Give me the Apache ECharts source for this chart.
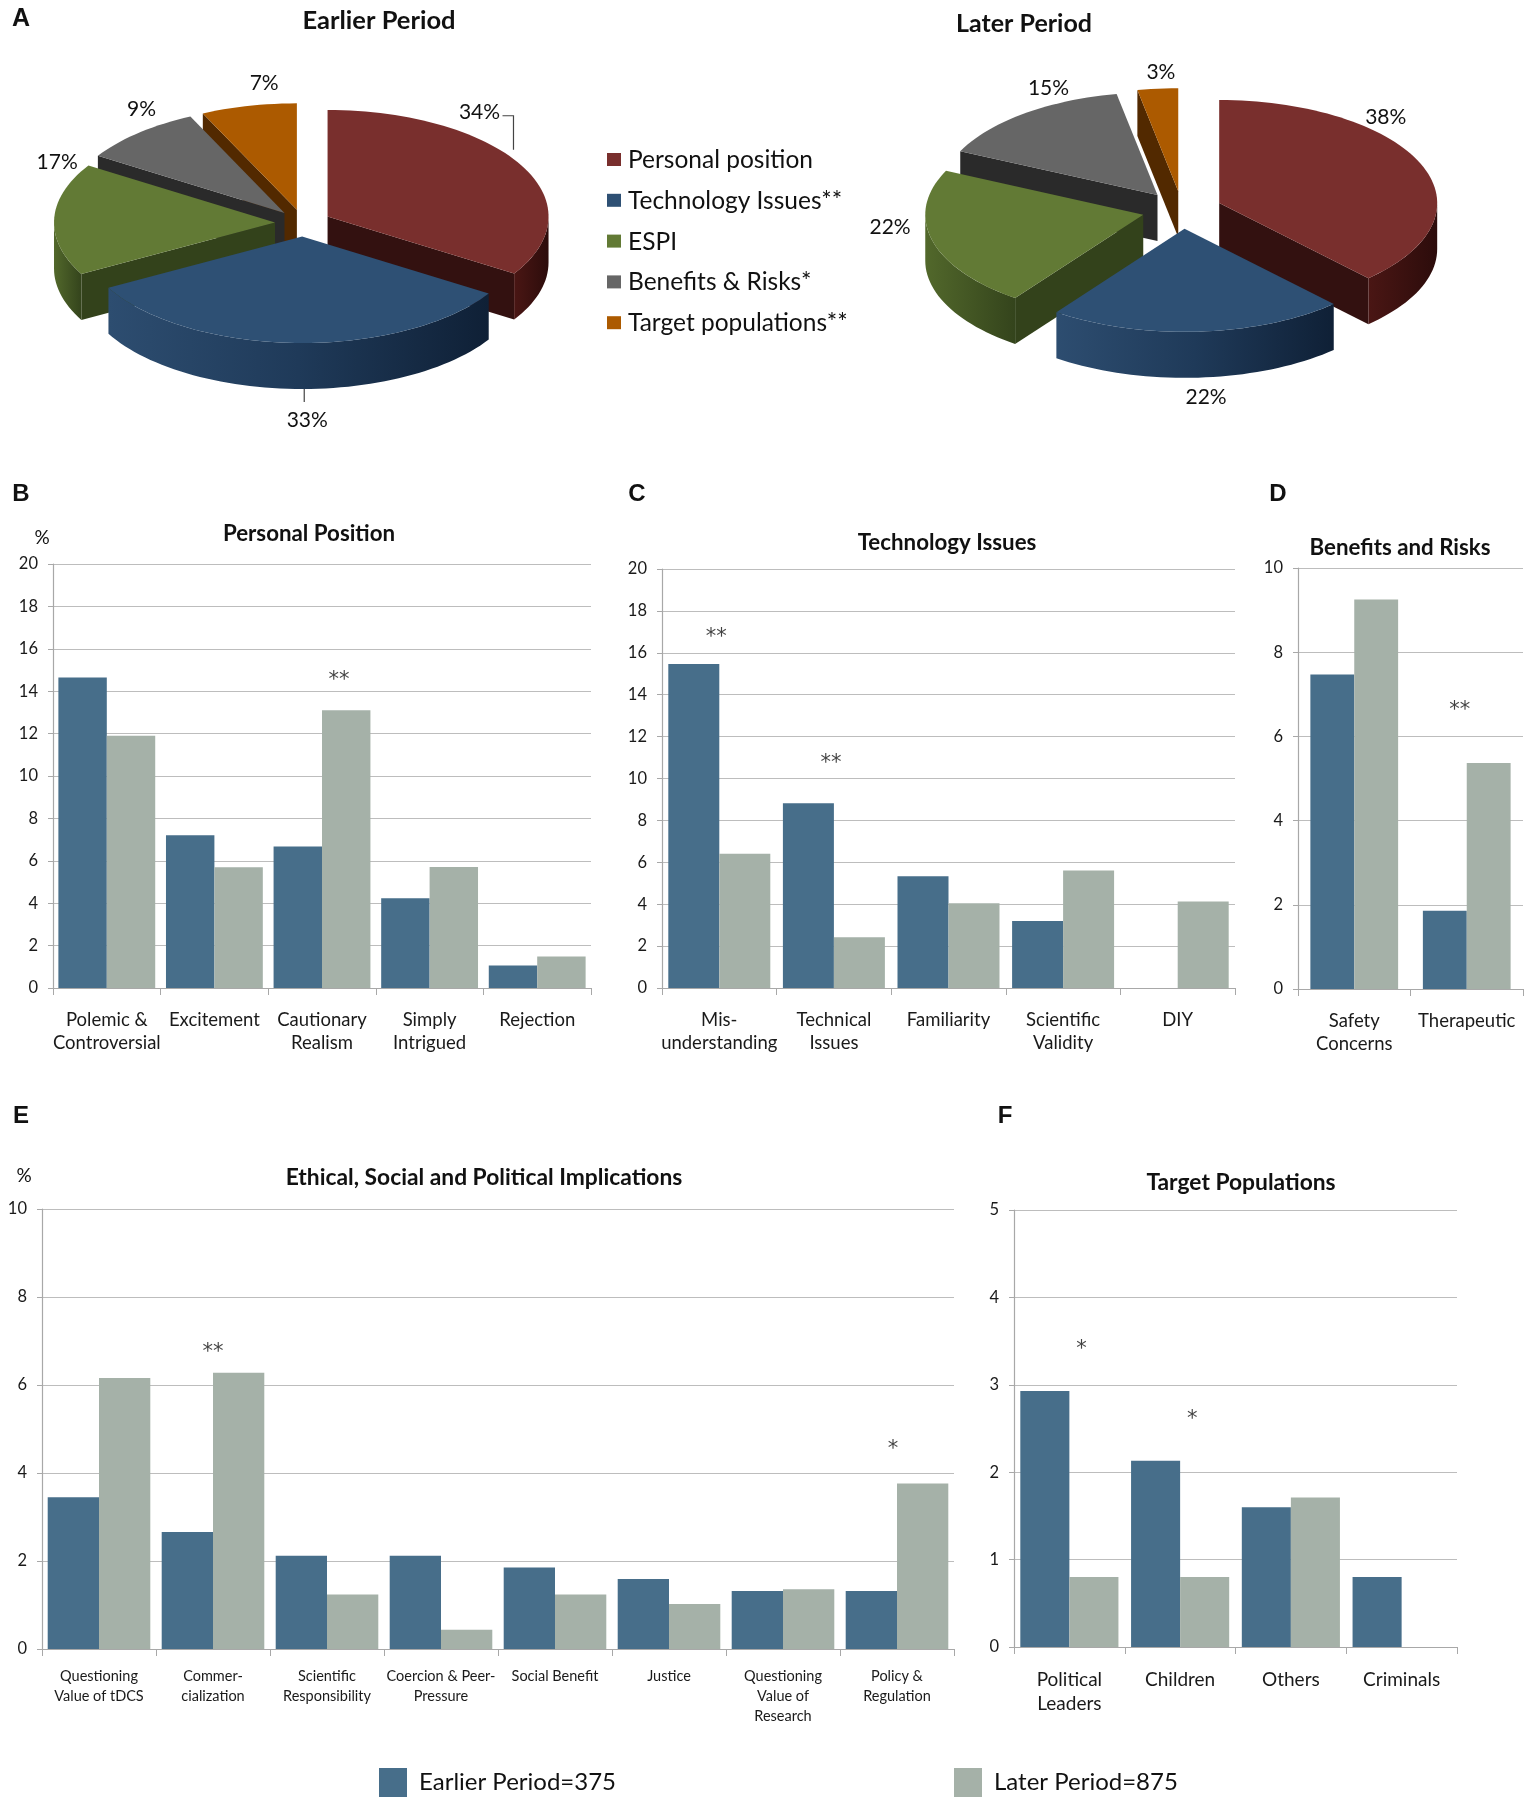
<!DOCTYPE html>
<html><head><meta charset="utf-8">
<script src="https://cdn.jsdelivr.net/npm/echarts@6/dist/echarts.min.js"></script>
<style>html,body{margin:0;padding:0;background:#fff}#c{width:1532px;height:1800px}</style>
</head><body><div id="c"></div>
<script>
// ---------- DATA ----------
const pieCategories = ['Personal position', 'Technology Issues**', 'ESPI', 'Benefits & Risks*', 'Target populations**'];
const earlierPieValues = [34, 33, 17, 9, 7];
const laterPieValues = [38, 22, 22, 15, 3];

const ppCategories = ['Polemic &\nControversial', 'Excitement', 'Cautionary\nRealism', 'Simply\nIntrigued', 'Rejection'];
const ppEarlier = [14.65, 7.2, 6.67, 4.23, 1.06];
const ppLater = [11.9, 5.7, 13.1, 5.71, 1.48];
const ppMarks = [[2, 14.8, '**']];

const tiCategories = ['Mis-\nunderstanding', 'Technical\nIssues', 'Familiarity', 'Scientific\nValidity', 'DIY'];
const tiEarlier = [15.46, 8.82, 5.34, 3.2, 0];
const tiLater = [6.41, 2.42, 4.04, 5.61, 4.13];
const tiMarks = [[0, 17.0, '**'], [1, 11.0, '**']];

const brCategories = ['Safety\nConcerns', 'Therapeutic'];
const brEarlier = [7.47, 1.86];
const brLater = [9.25, 5.37];
const brMarks = [[1, 6.75, '**']];

const espiCategories = ['Questioning\nValue of tDCS', 'Commer-\ncialization', 'Scientific\nResponsibility', 'Coercion & Peer-\nPressure', 'Social Benefit', 'Justice', 'Questioning\nValue of\nResearch', 'Policy &\nRegulation'];
const espiEarlier = [3.45, 2.66, 2.12, 2.12, 1.85, 1.59, 1.32, 1.32];
const espiLater = [6.16, 6.28, 1.24, 0.44, 1.24, 1.02, 1.36, 3.76];
const espiMarks = [[1, 6.87, '**'], [7, 4.68, '*']];

const tpCategories = ['Political\nLeaders', 'Children', 'Others', 'Criminals'];
const tpEarlier = [2.93, 2.13, 1.60, 0.80];
const tpLater = [0.80, 0.80, 1.71, 0];
const tpMarks = [[0, 3.47, '*'], [1, 2.67, '*']];

const seriesNames = ['Earlier Period=375', 'Later Period=875'];

// ---------- STYLE ----------
const FONT = 'Lato, "Open Sans", sans-serif';
const EARLY_COLOR = '#476e8a';
const LATE_COLOR = '#a5b1a8';
const pieColors = [
  { top: '#792f2d', face: '#331110', wall: ['#4a1614', '#2c0c0b'] },
  { top: '#2e5074', face: '#1b3250', wall: ['#2d4d70', '#1f3a59', '#0f2036'] },
  { top: '#627a35', face: '#33421b', wall: ['#52682b', '#34441c'] },
  { top: '#666666', face: '#2a2a2a', wall: ['#3a3a3a', '#282828'] },
  { top: '#ac5a00', face: '#522900', wall: ['#6a3500', '#4c2600'] }
];
const earlierPieCfg = { cx: 303, cy: 223, rx: 221, ry: 106.5, depth: 46, e: 28,
  nudges: [[-68, -39], [13, 1], [33, -56], [23, -1], [22, 7]],
  leaders: { 0: [[23, 4], [34, 4], [34, 38]], 1: [[-3, -31], [-3, -18]] } };
const laterPieCfg = { cx: 1182, cy: 210, rx: 218, ry: 103, depth: 46, e: 40,
  nudges: [[-64, -37], [6, -10], [-13, -32], [43, -2], [6, 13]],
  leaders: {} };

const rad = d => d * Math.PI / 180;

function pieRenderer(cfg, values) {
  const total = values.reduce((a, b) => a + b, 0);
  const starts = []; let acc = 0;
  values.forEach(v => { starts.push(acc / total * 360); acc += v; });
  const mids = values.map((v, i) => starts[i] + v / total * 180);
  const order = mids.map((m, i) => i).sort((a, b) => Math.cos(rad(mids[b])) - Math.cos(rad(mids[a])));
  const rank = []; order.forEach((idx, r) => rank[idx] = r);
  const D = cfg.depth;
  return function (params, api) {
    const i = params.dataIndex;
    const v = api.value(0);
    const a0 = starts[i], a1 = a0 + v / total * 360, am = (a0 + a1) / 2;
    const k = cfg.ry / cfg.rx;
    const ox = cfg.cx + cfg.e * Math.sin(rad(am));
    const oy = cfg.cy - cfg.e * k * Math.cos(rad(am));
    const P = (t, d) => [ox + cfg.rx * Math.sin(rad(t)), oy - cfg.ry * Math.cos(rad(t)) + (d || 0)];
    const arc = (s, e2, d) => { const pts = []; const n = Math.max(2, Math.ceil((e2 - s) / 2)); for (let j = 0; j <= n; j++) pts.push(P(s + (e2 - s) * j / n, d)); return pts; };
    const col = pieColors[i];
    const z = rank[i] * 10;
    const children = [];
    if (Math.sin(rad(a0)) < -1e-6) children.push({ type: 'polygon', shape: { points: [[ox, oy], P(a0), P(a0, D), [ox, oy + D]] }, style: { fill: col.face }, z2: z + 1 });
    if (Math.sin(rad(a1)) > 1e-6) children.push({ type: 'polygon', shape: { points: [[ox, oy], P(a1), P(a1, D), [ox, oy + D]] }, style: { fill: col.face }, z2: z + 1 });
    const ws = Math.max(a0, 90), we = Math.min(a1, 270);
    if (we > ws) {
      const top = arc(ws, we, 0); const bot = arc(ws, we, D).reverse();
      const stops = col.wall.map((c, j) => ({ offset: j / (col.wall.length - 1), color: c }));
      children.push({ type: 'polygon', shape: { points: top.concat(bot) }, style: { fill: new echarts.graphic.LinearGradient(0, 0, 1, 0, stops) }, z2: z + 2 });
    }
    children.push({ type: 'polygon', shape: { points: [[ox, oy]].concat(arc(a0, a1, 0)) }, style: { fill: col.top }, z2: z + 3 });
    const L = 30, c = Math.cos(rad(am)), s = Math.sin(rad(am));
    const lx = ox + (cfg.rx + L) * s + cfg.nudges[i][0];
    const ly = oy - (cfg.ry + L) * c + (c < 0 ? -c * D : 0) + cfg.nudges[i][1];
    children.push({ type: 'text', style: { text: v + '%', x: lx, y: ly, align: 'center', verticalAlign: 'middle', fontSize: 21, fontFamily: FONT, fill: '#111' }, z2: 200 });
    if (cfg.leaders[i]) {
      children.push({ type: 'polyline', shape: { points: cfg.leaders[i].map(p => [lx + p[0], ly + p[1]]) }, style: { stroke: '#444', lineWidth: 1.2, fill: null }, z2: 200 });
    }
    return { type: 'group', children };
  };
}

// ---------- BAR PANELS ----------
const panels = [
  { cats: ppCategories, early: ppEarlier, late: ppLater, marks: ppMarks, markDx: [17], left: 53, top: 564, right: 591, bottom: 988, max: 20, interval: 2, gap: '10%', fs: 18.5, lh: 23, margin: 21 },
  { cats: tiCategories, early: tiEarlier, late: tiLater, marks: tiMarks, markDx: [-3, -3], left: 662, top: 569, right: 1235, bottom: 988, max: 20, interval: 2, gap: '11%', fs: 18.5, lh: 23, margin: 21 },
  { cats: brCategories, early: brEarlier, late: brLater, marks: brMarks, markDx: [-7], left: 1298, top: 568, right: 1523, bottom: 989, max: 10, interval: 2, gap: '22%', fs: 18.5, lh: 23, margin: 21 },
  { cats: espiCategories, early: espiEarlier, late: espiLater, marks: espiMarks, markDx: [0, -4], left: 42, top: 1209, right: 954, bottom: 1649, max: 10, interval: 2, gap: '10%', fs: 14.5, lh: 20, margin: 17 },
  { cats: tpCategories, early: tpEarlier, late: tpLater, marks: tpMarks, markDx: [12, 12], left: 1014, top: 1210, right: 1457, bottom: 1647, max: 5, interval: 1, gap: '11.4%', fs: 19, lh: 24, margin: 21 }
];

const grids = [], xAxes = [], yAxes = [], series = [];
panels.forEach((p, i) => {
  grids.push({ left: p.left, top: p.top, width: p.right - p.left, height: p.bottom - p.top, containLabel: false });
  xAxes.push({ type: 'category', gridIndex: i, data: p.cats,
    axisLine: { show: true, lineStyle: { color: '#a8a8a8', width: 1.2 } },
    axisTick: { show: true, length: 7, interval: 0, lineStyle: { color: '#a8a8a8' } },
    axisLabel: { interval: 0, fontSize: p.fs, lineHeight: p.lh, color: '#1a1a1a', fontFamily: FONT, margin: p.margin },
    splitLine: { show: false } });
  yAxes.push({ type: 'value', gridIndex: i, min: 0, max: p.max, interval: p.interval,
    axisLine: { show: true, lineStyle: { color: '#a8a8a8', width: 1.2 } },
    axisTick: { show: true, length: 5, lineStyle: { color: '#a8a8a8' } },
    axisLabel: { fontSize: 16.5, color: '#1a1a1a', fontFamily: FONT, margin: 15 },
    splitLine: { show: true, lineStyle: { color: '#bdbdbd', width: 1.2 } } });
  series.push({ name: seriesNames[0], type: 'bar', xAxisIndex: i, yAxisIndex: i, data: p.early, itemStyle: { color: EARLY_COLOR }, barGap: '0%', barCategoryGap: p.gap, silent: true });
  series.push({ name: seriesNames[1], type: 'bar', xAxisIndex: i, yAxisIndex: i, data: p.late, itemStyle: { color: LATE_COLOR }, barGap: '0%', barCategoryGap: p.gap, silent: true });
  series.push({ name: 'sig' + i, type: 'scatter', xAxisIndex: i, yAxisIndex: i, symbolSize: 0, silent: true,
    data: p.marks.map((m, j) => ({ value: [m[0], m[1]], name: m[2], label: { offset: [p.markDx[j] || 0, 6] } })),
    label: { show: true, position: 'inside', formatter: '{b}', fontSize: 21, color: '#111', fontFamily: '"DejaVu Sans", sans-serif' } });
});

series.push({ name: 'pieEarlier', type: 'custom', coordinateSystem: 'none', data: earlierPieValues, renderItem: pieRenderer(earlierPieCfg, earlierPieValues), silent: true });
series.push({ name: 'pieLater', type: 'custom', coordinateSystem: 'none', data: laterPieValues, renderItem: pieRenderer(laterPieCfg, laterPieValues), silent: true });

// ---------- STATIC TEXT ----------
const txt = (text, x, y, size, bold, align) => ({ type: 'text', x, y, style: { text, fontSize: size, fontWeight: bold ? 'bold' : 'normal', fontFamily: bold === 'arial' ? 'Liberation Sans, Arial, sans-serif' : FONT, fill: '#111', align: align || 'center', verticalAlign: 'middle' } });
const graphics = [
  txt('A', 21, 19, 25, 'arial', 'center'),
  txt('B', 21, 494, 24, 'arial', 'center'),
  txt('C', 637, 494, 24, 'arial', 'center'),
  txt('D', 1278, 494, 24, 'arial', 'center'),
  txt('E', 21, 1116, 24, 'arial', 'center'),
  txt('F', 1005, 1116, 24, 'arial', 'center'),
  txt('Earlier Period', 379, 21, 25.5, true),
  txt('Later Period', 1024, 24, 25, true),
  txt('Personal Position', 309, 534, 22.3, true),
  txt('Technology Issues', 947, 543, 22.3, true),
  txt('Benefits and Risks', 1400, 548, 22.3, true),
  txt('Ethical, Social and Political Implications', 484, 1178, 22.8, true),
  txt('Target Populations', 1241, 1183, 22.8, true),
  txt('%', 42, 538, 19, false),
  txt('%', 24, 1176, 19, false)
];
pieCategories.forEach((name, i) => {
  const y = 160 + i * 40.8;
  graphics.push({ type: 'rect', shape: { x: 607, y: y - 7, width: 14, height: 13 }, style: { fill: pieColors[i].top } });
  graphics.push(txt(name, 628, y, 24.5, false, 'left'));
});

const chart = echarts.init(document.getElementById('c'), null, { renderer: 'canvas' });
const legendText = { fontSize: 24, color: '#111', fontFamily: FONT, padding: [0, 0, 0, 7] };
chart.setOption({
  backgroundColor: '#fff',
  animation: false,
  grid: grids, xAxis: xAxes, yAxis: yAxes, series,
  legend: [
    { data: [seriesNames[0]], left: 379, top: 1768, padding: 0, itemWidth: 28, itemHeight: 29, icon: 'rect', selectedMode: false, textStyle: legendText },
    { data: [seriesNames[1]], left: 954, top: 1768, padding: 0, itemWidth: 28, itemHeight: 29, icon: 'rect', selectedMode: false, textStyle: legendText }
  ],
  graphic: graphics
});
</script></body></html>
